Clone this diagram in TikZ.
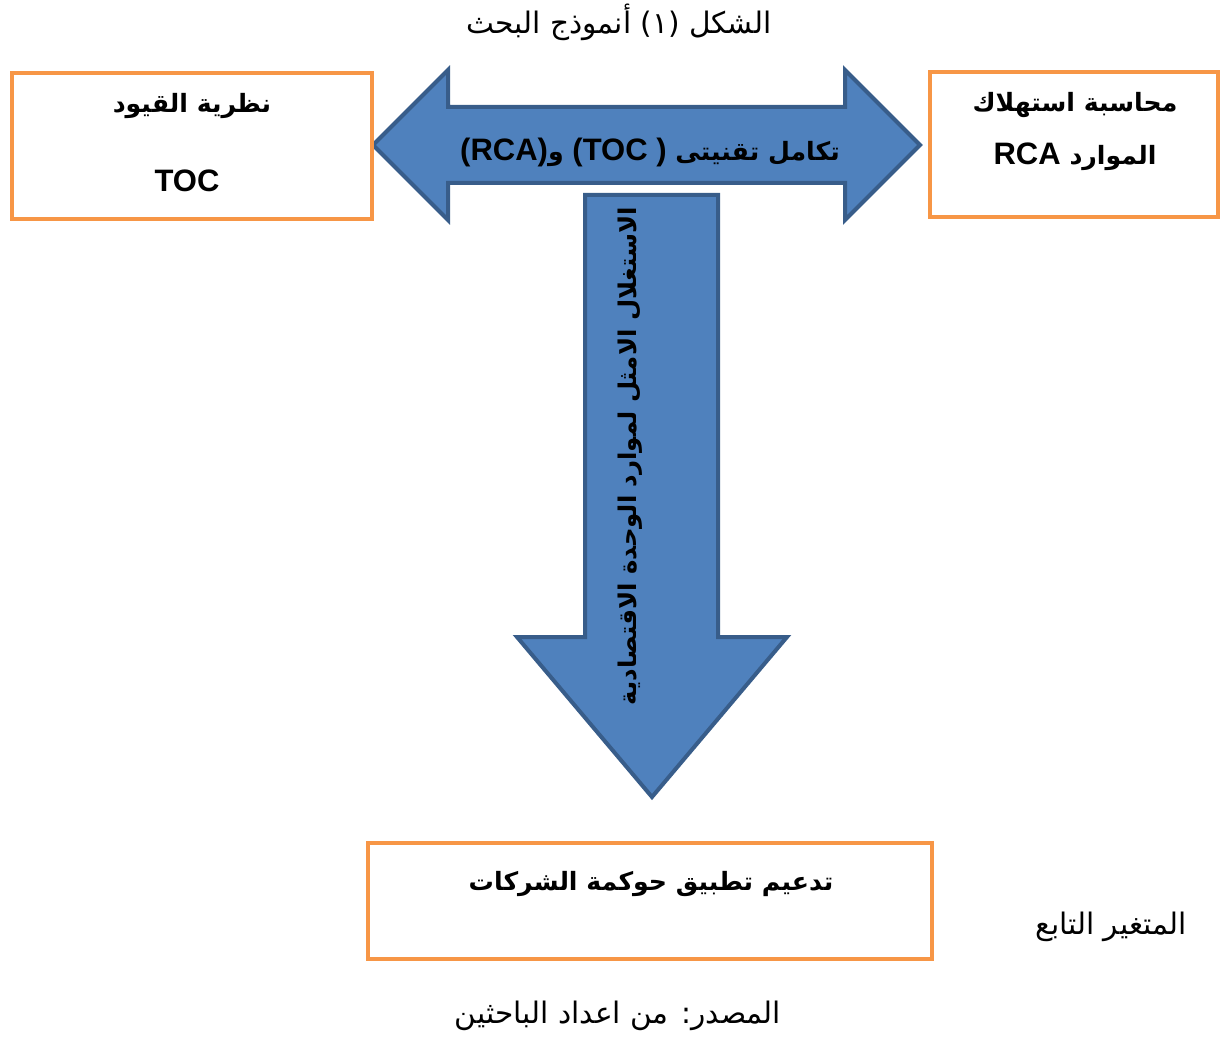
\documentclass[tikz,border=0pt]{standalone}
\usepackage{fontspec}
\usepackage{xcolor}
\TeXXeTstate=1
\newfontfamily\arabicfont[Script=Arabic]{DejaVu Sans}
\newfontfamily\latinfont{Liberation Sans}
\newcommand{\artxt}[1]{{\arabicfont\beginR #1\endR}}
\newcommand{\lattxt}[1]{\beginL{\latinfont\fontsize{15.5}{18}\selectfont #1}\endL}
\definecolor{boxorange}{HTML}{F79646}
\definecolor{arrowfill}{HTML}{4F81BD}
\definecolor{arrowline}{HTML}{385D8A}
\tikzset{
  box/.style={draw=boxorange, line width=2pt, fill=white, inner sep=0pt},
  blockarrow/.style={fill=arrowfill, draw=arrowline, line width=2pt, line join=miter},
  boldtxt/.style={font=\fontsize{12.6}{16}\selectfont\bfseries, inner sep=0pt},
  plaintxt/.style={font=\fontsize{14.8}{17}\selectfont, inner sep=0pt},
}

\begin{document}
\begin{tikzpicture}[x=0.5pt, y=-0.5pt]
  \useasboundingbox (0,0) rectangle (1220,1037);

  % Title of the figure
  \node[plaintxt] (title) at (619,22) {\artxt{الشكل (١) أنموذج البحث}};

  % Double arrow between the two techniques
  \draw[blockarrow] (373,145) -- (448,70) -- (448,107) -- (845,107) -- (845,70)
    -- (920,145) -- (845,220) -- (845,183) -- (448,183) -- (448,220) -- cycle;
  \node[boldtxt] (link) at (650,152)
    {\artxt{تكامل تقنيتى \lattxt{(TOC )} و\lattxt{(RCA)}}};

  % Arrow down to the dependent variable
  \draw[blockarrow] (585,195) -- (718,195) -- (718,637) -- (787,637)
    -- (652,797) -- (517,637) -- (585,637) -- cycle;
  \node[boldtxt, rotate=90, font=\fontsize{12.2}{16}\selectfont\bfseries] (flow) at (630,456)
    {\artxt{الاستغلال الامثل لموارد الوحدة الاقتصادية}};

  % Left box
  \node[box, minimum width=180pt, minimum height=73pt] (toc) at (192,146) {};
  \node[boldtxt] (tocname) at (192,106) {\artxt{نظرية القيود}};
  \node[boldtxt] (tocabbr) at (187,181) {\lattxt{TOC}};

  % Right box
  \node[box, minimum width=144pt, minimum height=72.5pt] (rca) at (1074,144.5) {};
  \node[boldtxt] (rcaname) at (1075,105) {\artxt{محاسبة استهلاك}};
  \node[boldtxt] (rcaabbr) at (1075,157) {\artxt{الموارد \lattxt{RCA}}};

  % Bottom box
  \node[box, minimum width=282pt, minimum height=58pt] (gov) at (650,901) {};
  \node[boldtxt] (govtext) at (651,884) {\artxt{تدعيم تطبيق حوكمة الشركات}};

  \node[plaintxt] (depvar) at (1111,927) {\artxt{المتغير التابع}};
  \node[plaintxt] (source) at (618,1016) {\artxt{المصدر: من اعداد الباحثين}};
\end{tikzpicture}
\end{document}
